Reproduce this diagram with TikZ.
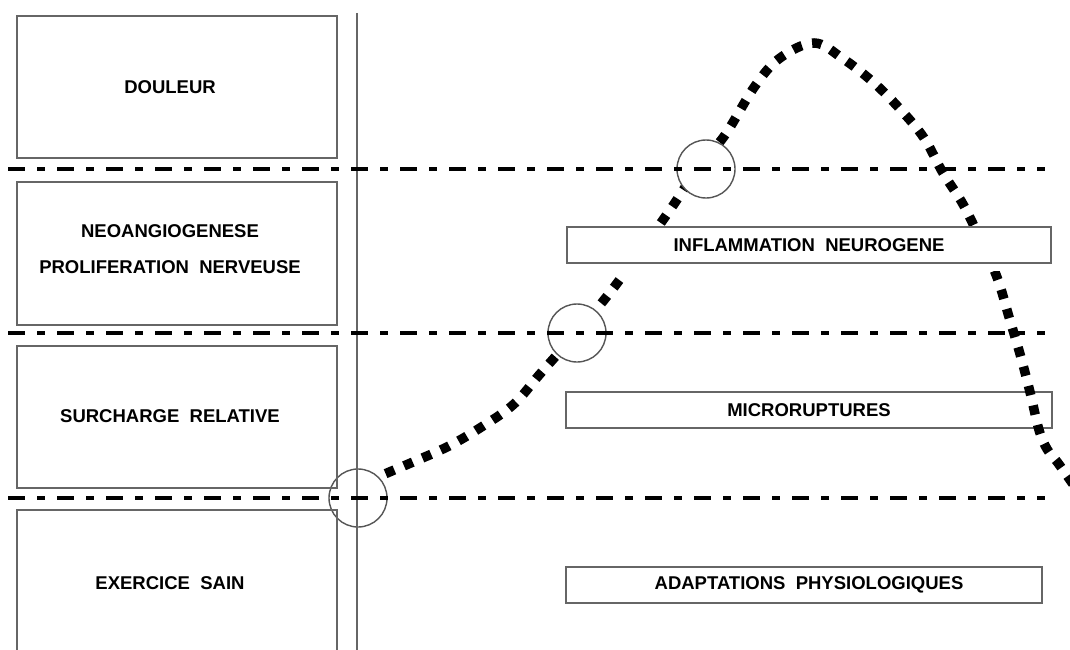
\documentclass[tikz,border=0pt]{standalone}
\usepackage{fontspec}
\setmainfont{Liberation Sans}
\definecolor{boxgray}{HTML}{666666}
\definecolor{ringgray}{HTML}{555555}
\begin{document}
\begin{tikzpicture}[x=1pt,y=-1pt,
  lbox/.style={draw=boxgray, line width=1.4pt, inner sep=0pt},
  rbox/.style={draw=boxgray, line width=1.4pt, inner sep=0pt, minimum height=36pt,
    font=\fontsize{18.5}{22}\selectfont\bfseries},
  lbl/.style={font=\fontsize{18.5}{22}\selectfont\bfseries, inner sep=0pt, align=center},
  dashdot/.style={line width=4pt, dash pattern=on 17pt off 12pt on 8pt off 12pt},
  ring/.style={draw=ringgray, fill=white, line width=1.4pt, circle, minimum size=58pt, inner sep=0pt},
  dotcurve/.style={line width=9.5pt, dash pattern=on 9.5pt off 10.5pt},
  axis/.style={draw=boxgray, line width=1.4pt}
]
\useasboundingbox (0,0) rectangle (1070,650);

% right boxes below the curve
\node[rbox, minimum width=486pt] (micro) at (809,410) {};
\node[lbl] (microt) at (809,410) {MICRORUPTURES};
\node[rbox, minimum width=476pt] (adapt) at (804,585) {};
\node[lbl] (adaptt) at (809,585) {ADAPTATIONS\ \ PHYSIOLOGIQUES};

% dotted curve
\draw[dotcurve] plot[smooth, tension=0.6] coordinates {
  (368,483) (378,477) (413,462) (449,446) (483,426) (514,404) (540,374)
  (577,332) (608,295) (640,252) (672,207) (700,165) (725,135) (755,86)
  (780,58) (814,43) (842,58) (873,82) (900,109) (924,138) (943,173)
  (964,206) (985,250) (998,280) (1009,317) (1020,354) (1030,392)
  (1039,430) (1047,449) (1058,463) (1075,487)};

% mask and box over the curve
\fill[white] (567,226) rectangle (809,277);
\fill[white] (809,226) rectangle (1051,271);
\node[rbox, minimum width=484pt, fill=white] (infl) at (809,245) {};
\node[lbl] (inflt) at (809,245) {INFLAMMATION\ \ NEUROGENE};

% circles
\node[ring] (c1) at (358,498) {};
\node[ring] (c2) at (577,333) {};
\node[ring] (c3) at (706,169) {};

% left boxes
\node[lbox, minimum width=320pt, minimum height=142pt] (b1) at (177,87) {};
\node[lbox, minimum width=320pt, minimum height=143pt] (b2) at (177,253.5) {};
\node[lbox, minimum width=320pt, minimum height=142pt] (b3) at (177,417) {};
\node[lbox, minimum width=320pt, minimum height=150pt] (b4) at (177,585) {};
\node[lbl] (t1) at (170,87) {DOULEUR};
\node[lbl] (t2a) at (170,231) {NEOANGIOGENESE};
\node[lbl] (t2b) at (170,267) {PROLIFERATION\ \ NERVEUSE};
\node[lbl] (t3) at (170,416) {SURCHARGE\ \ RELATIVE};
\node[lbl] (t4) at (170,583) {EXERCICE\ \ SAIN};

% vertical axis
\coordinate (vtop) at (357,13);
\coordinate (vbot) at (357,652);
\draw[axis] (vtop) -- (vbot);

% dash-dot levels
\coordinate (l1a) at (8,169);   \coordinate (l1b) at (1045,169);
\coordinate (l2a) at (8,333);   \coordinate (l2b) at (1045,333);
\coordinate (l3a) at (8,498);   \coordinate (l3b) at (1045,498);
\draw[dashdot] (l1a) -- (l1b);
\draw[dashdot] (l2a) -- (l2b);
\draw[dashdot] (l3a) -- (l3b);
\end{tikzpicture}
\end{document}
